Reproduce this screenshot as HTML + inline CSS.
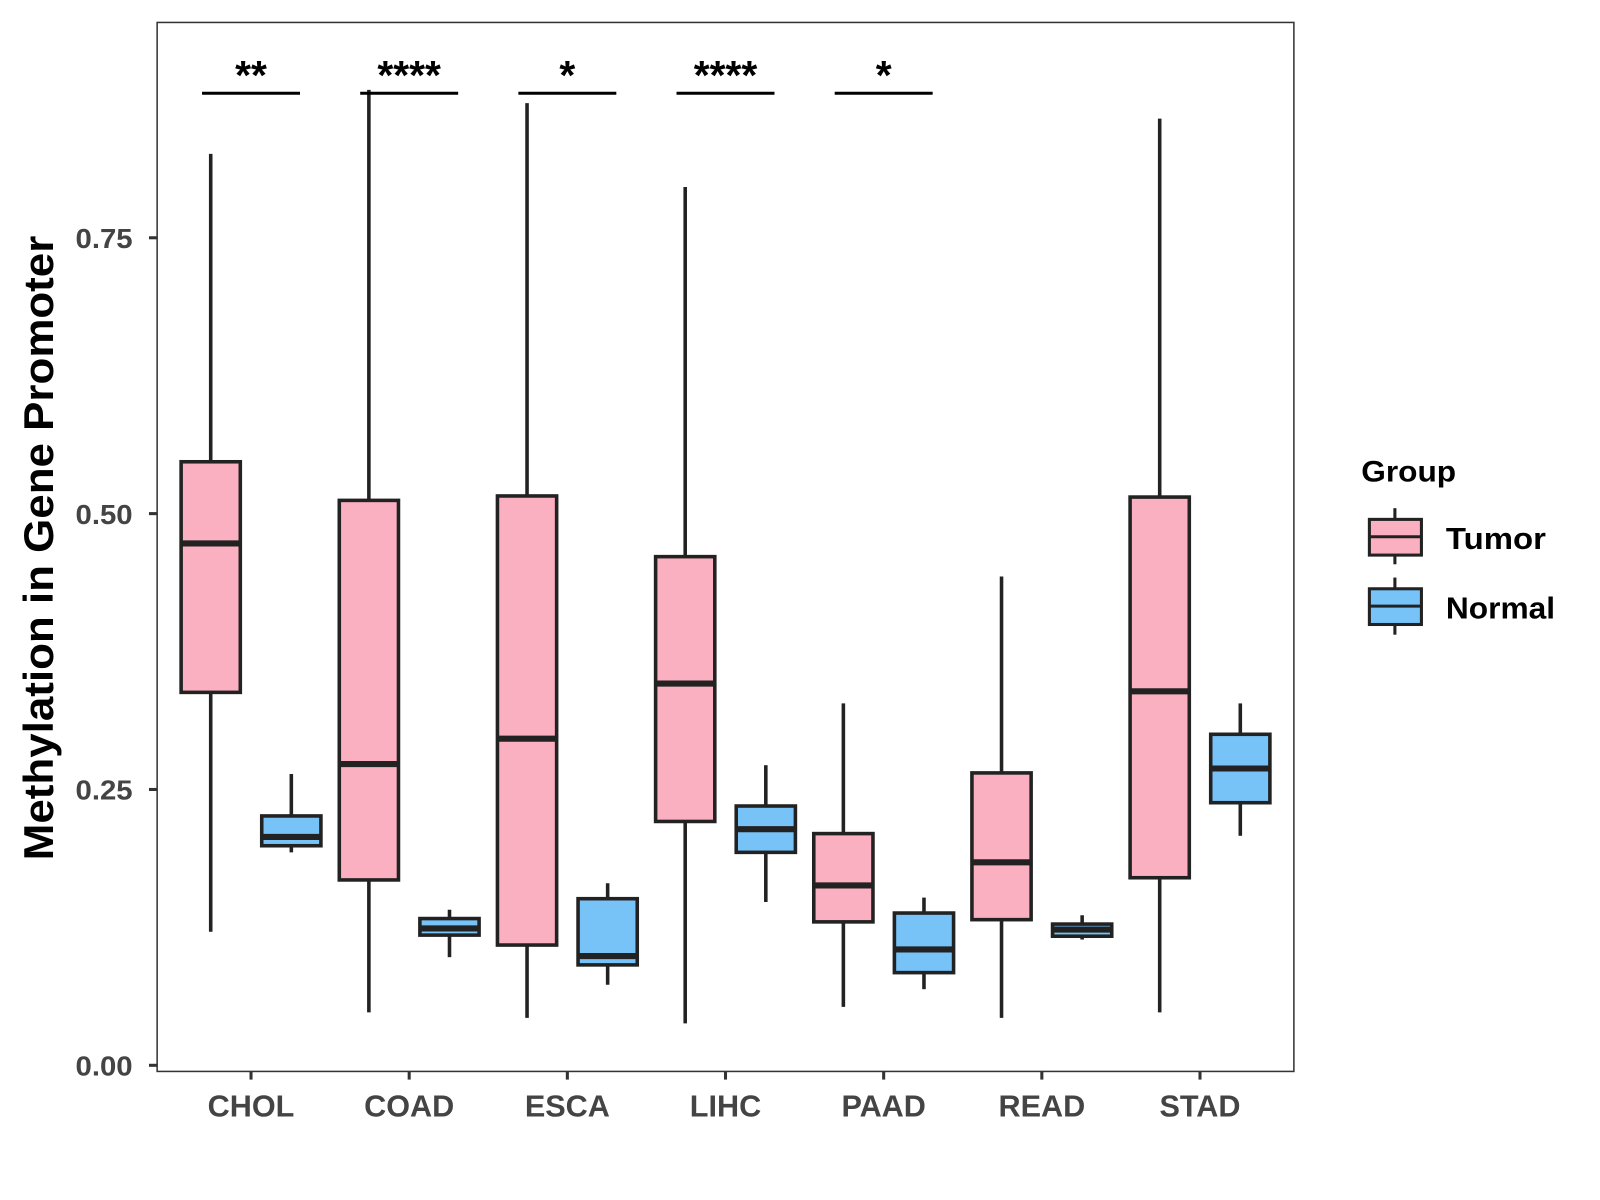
<!DOCTYPE html>
<html><head><meta charset="utf-8"><style>
html,body{margin:0;padding:0;background:#fff;}
svg{display:block;font-family:"Liberation Sans",Arial,sans-serif;}
</style></head><body>
<svg id="chart" width="1600" height="1200" viewBox="0 0 1568 1176" xmlns="http://www.w3.org/2000/svg">
<rect x="0" y="0" width="1568" height="1176" fill="#fff"/>
<g id="plot"></g>
<text transform="translate(52,537) rotate(-90)" text-anchor="middle" font-size="41" font-weight="bold" fill="#000" textLength="612" lengthAdjust="spacingAndGlyphs">Methylation in Gene Promoter</text>
<g>
<text x="1334" y="472" font-size="29" font-weight="bold" fill="#000" textLength="93" lengthAdjust="spacingAndGlyphs">Group</text>
<g>
<line x1="1367" y1="498" x2="1367" y2="553" stroke="#222" stroke-width="3"/>
<rect x="1342" y="509" width="51" height="35" fill="#FBB0C1" stroke="#222" stroke-width="3"/>
<line x1="1342" y1="526" x2="1393" y2="526" stroke="#222" stroke-width="3"/>
<text x="1417" y="538" font-size="30" font-weight="bold" fill="#000" textLength="98" lengthAdjust="spacingAndGlyphs">Tumor</text>
</g>
<g>
<line x1="1367" y1="566" x2="1367" y2="622" stroke="#222" stroke-width="3"/>
<rect x="1342" y="577" width="51" height="35" fill="#77C3F8" stroke="#222" stroke-width="3"/>
<line x1="1342" y1="594" x2="1393" y2="594" stroke="#222" stroke-width="3"/>
<text x="1417" y="606" font-size="30" font-weight="bold" fill="#000" textLength="107" lengthAdjust="spacingAndGlyphs">Normal</text>
</g>
</g>
</svg>
<script>
const categories = ["CHOL","COAD","ESCA","LIHC","PAAD","READ","STAD"];
// [min, q1, median, q3, max]
const tumorStats = [
 [0.121,0.338,0.473,0.547,0.826],
 [0.048,0.168,0.273,0.512,0.884],
 [0.043,0.109,0.296,0.516,0.872],
 [0.038,0.221,0.346,0.461,0.796],
 [0.053,0.130,0.163,0.210,0.328],
 [0.043,0.132,0.184,0.265,0.443],
 [0.048,0.170,0.339,0.515,0.858]
];
const normalStats = [
 [0.193,0.199,0.207,0.226,0.264],
 [0.098,0.118,0.124,0.133,0.141],
 [0.073,0.091,0.099,0.151,0.165],
 [0.148,0.193,0.214,0.235,0.272],
 [0.069,0.084,0.105,0.138,0.152],
 [0.114,0.117,0.123,0.128,0.136],
 [0.208,0.238,0.269,0.300,0.328]
];
const sigLabels = ["**","****","*","****","*"];
const sigY = 0.881;
const yTicks = [0, 0.25, 0.5, 0.75];
const yTickLabels = ["0.00","0.25","0.50","0.75"];

const NS="http://www.w3.org/2000/svg";
const g=document.getElementById('plot');
const L=154,R=1268,T=22,B=1050;
const yScale=v=>1044-v*1081.3;
const xScale=i=>246+i*155;
function el(t,a,p){const e=document.createElementNS(NS,t);for(const k in a)e.setAttribute(k,a[k]);(p||g).appendChild(e);return e;}

const panel=el('rect',{x:L,y:T,width:R-L,height:B-T,fill:'none',stroke:'#333','stroke-width':1.5});



yTicks.forEach((v,i)=>{
 const y=yScale(v);
 const tk=el('line',{x1:L-8,x2:L,y1:y,y2:y,stroke:'#333','stroke-width':3});
 
 
 const t=el('text',{x:L-24,y:y+10,'text-anchor':'end','font-size':27,'font-weight':'bold',fill:'#444',textLength:56,lengthAdjust:'spacingAndGlyphs'});
 t.textContent=yTickLabels[i];
 
 
});

categories.forEach((c,i)=>{
 const x=xScale(i);
 const tk=el('line',{x1:x,x2:x,y1:B,y2:B+8,stroke:'#333','stroke-width':3});
 
 
 const t=el('text',{x:x,y:B+44,'text-anchor':'middle','font-size':30,'font-weight':'bold',fill:'#444'});
 t.textContent=c;
 
 
});

function box(i,s,off,fill,name){
 const cx=xScale(i)+off, hw=29;
 const grp=el('g',{});
 
 
 el('line',{x1:cx,x2:cx,y1:yScale(s[4]),y2:yScale(s[3]),stroke:'#222','stroke-width':3.5},grp);
 el('line',{x1:cx,x2:cx,y1:yScale(s[1]),y2:yScale(s[0]),stroke:'#222','stroke-width':3.5},grp);
 el('rect',{x:cx-hw,y:yScale(s[3]),width:2*hw,height:yScale(s[1])-yScale(s[3]),fill:fill,stroke:'#222','stroke-width':3.5},grp);
 el('line',{x1:cx-hw,x2:cx+hw,y1:yScale(s[2]),y2:yScale(s[2]),stroke:'#222','stroke-width':6},grp);
}
categories.forEach((c,i)=>{
 box(i,tumorStats[i],-39.5,'#FBB0C1','box-tumor-'+c.toLowerCase());
 box(i,normalStats[i],39.5,'#77C3F8','box-normal-'+c.toLowerCase());
});

sigLabels.forEach((s,i)=>{
 const x=xScale(i), y=yScale(sigY);
 const ln=el('line',{x1:x-48,x2:x+48,y1:y,y2:y,stroke:'#000','stroke-width':3});
 
 
 const t=el('text',{x:x,y:y-4,'text-anchor':'middle','font-size':40,'font-weight':'bold',fill:'#000'});
 t.textContent=s;
 
 
});
</script>
</body></html>
